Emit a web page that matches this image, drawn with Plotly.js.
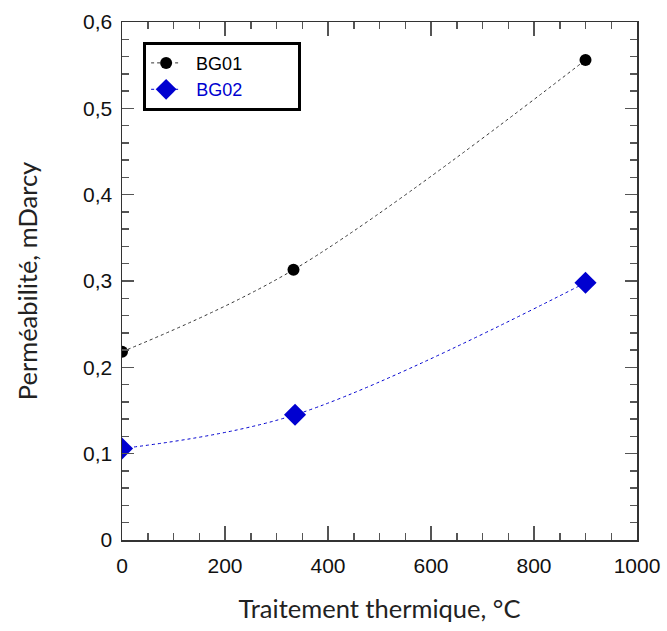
<!DOCTYPE html>
<html>
<head>
<meta charset="utf-8">
<script src="https://cdn.plot.ly/plotly-3.0.1.min.js"></script>
<style>html,body{margin:0;padding:0;background:#fff;}#chart{width:667px;height:631px;}</style>
</head>
<body>
<div id="chart"></div>
<script>
const seriesNames = ['BG01', 'BG02'];
const bg01X = [0, 333, 900];
const bg01Y = [0.218, 0.313, 0.556];
const bg02X = [0, 336, 900];
const bg02Y = [0.106, 0.145, 0.298];
const colors = ['#000000', '#0000d0'];
const lead = '\u00a0\u00a0';
const pad = '\u00a0\u00a0\u00a0\u00a0\u00a0\u00a0\u00a0\u00a0\u00a0\u00a0';

const traces = [
  {
    x: bg01X, y: bg01Y, name: lead + seriesNames[0] + pad, mode: 'lines+markers',
    line: {shape: 'spline', dash: 'dot', width: 1, color: '#333333'},
    marker: {symbol: 'circle', size: 12, color: colors[0]}
  },
  {
    x: bg02X, y: bg02Y, name: lead + '<span style="color:' + colors[1] + '">' + seriesNames[1] + '</span>' + pad, mode: 'lines+markers',
    line: {shape: 'spline', dash: 'dot', width: 1, color: colors[1]},
    marker: {symbol: 'diamond', size: 17, color: colors[1]}
  }
];

const axisCommon = {
  showgrid: false, zeroline: false, showline: true, linecolor: '#333', linewidth: 1.5,
  mirror: 'allticks', ticks: 'inside', tickcolor: '#555', tickwidth: 1.5,
  tickfont: {family: 'Liberation Sans, Arial, sans-serif', size: 21, color: '#111'}
};

const layout = {
  width: 667, height: 631,
  margin: {l: 122, r: 30, t: 22, b: 91},
  paper_bgcolor: '#fff', plot_bgcolor: '#fff',
  separators: ',.',
  showlegend: true,
  legend: {
    x: 0.041, y: 0.962, xanchor: 'left', yanchor: 'top',
    bordercolor: '#000', borderwidth: 3, bgcolor: '#fff',
    font: {family: 'Liberation Sans, Arial, sans-serif', size: 18, color: '#000'},
    tracegroupgap: 5
  },
  xaxis: Object.assign({}, axisCommon, {
    range: [0, 1000], dtick: 200, ticklen: 14, ticklabelstandoff: 6,
    minor: {dtick: 50, ticks: 'inside', ticklen: 7, tickcolor: '#555', tickwidth: 1.5},
    title: {text: 'Traitement thermique, °C', font: {family: 'Lato, Open Sans, sans-serif', size: 25.5, color: '#222'}, standoff: 24}
  }),
  yaxis: Object.assign({}, axisCommon, {
    range: [0, 0.6], dtick: 0.1, ticklen: 12, ticklabelstandoff: 4,
    minor: {dtick: 0.02, ticks: 'inside', ticklen: 7, tickcolor: '#555', tickwidth: 1.5},
    title: {text: 'Perméabilité, mDarcy', font: {family: 'Lato, Open Sans, sans-serif', size: 25.5, color: '#222'}, standoff: 38}
  })
};

Plotly.newPlot('chart', traces, layout, {displayModeBar: false, staticPlot: true});
</script>
</body>
</html>
